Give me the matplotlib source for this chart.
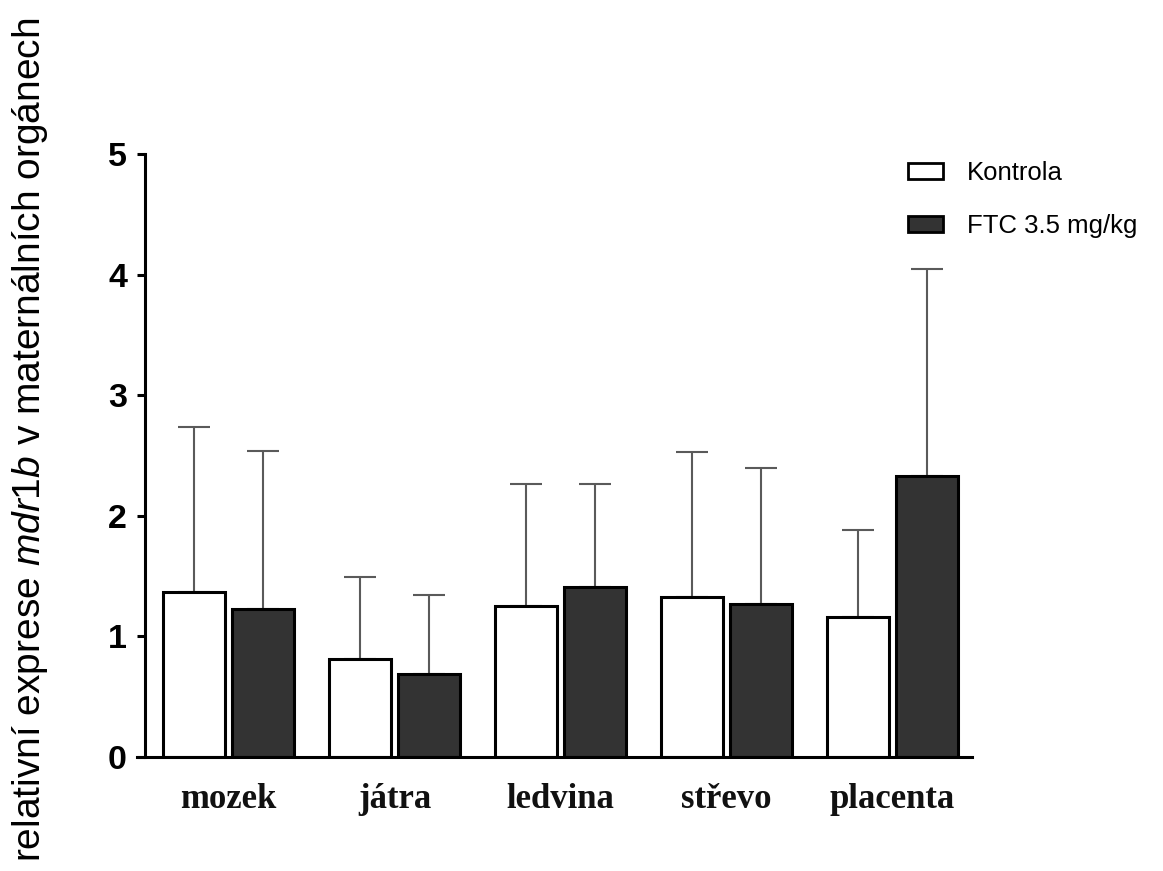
import matplotlib
matplotlib.use("Agg")
import matplotlib.pyplot as plt
from matplotlib.patches import Patch
import numpy as np

organs = ["mozek", "játra", "ledvina", "střevo", "placenta"]
series_names = ["Kontrola", "FTC 3.5 mg/kg"]
kontrola_mean = [1.37, 0.81, 1.25, 1.33, 1.16]
kontrola_sd = [1.37, 0.68, 1.01, 1.20, 0.72]
ftc_mean = [1.23, 0.69, 1.41, 1.27, 2.33]
ftc_sd = [1.31, 0.65, 0.85, 1.13, 1.72]
y_ticks = [0, 1, 2, 3, 4, 5]

plt.rcParams["mathtext.fontset"] = "custom"
plt.rcParams["mathtext.rm"] = "Liberation Sans"
plt.rcParams["mathtext.it"] = "Liberation Sans:italic"

W, H = 1163, 871
fig = plt.figure(figsize=(W / 100, H / 100), dpi=100)
ax_left, ax_right, ax_bottom, ax_top = 137, 972, 757, 154
ax = fig.add_axes([ax_left / W, 1 - ax_bottom / H,
                   (ax_right - ax_left) / W, (ax_bottom - ax_top) / H])

x = np.arange(len(organs))
off = 0.207
width = 0.37
dark = "#333333"
err_color = "#5a5a5a"

for xs, mean, sd, face in [(x - off, kontrola_mean, kontrola_sd, "white"),
                            (x + off, ftc_mean, ftc_sd, dark)]:
    ax.errorbar(xs, mean, yerr=[np.zeros(len(sd)), sd], fmt="none",
                ecolor=err_color, elinewidth=1.5, capsize=11.5, capthick=1.5,
                zorder=1)
    ax.bar(xs, mean, width=width, color=face, edgecolor="black",
           linewidth=2.2, zorder=2)

ax.set_xlim(-0.551, 4.479)
ax.set_ylim(0, 5)
ax.spines["left"].set_position(("data", -0.503))
ax.spines["top"].set_visible(False)
ax.spines["right"].set_visible(False)
for s in ("left", "bottom"):
    ax.spines[s].set_linewidth(2.2)

ax.set_yticks(y_ticks)
ax.set_yticklabels([str(t) for t in y_ticks], fontfamily="Liberation Sans",
                   fontweight="bold", fontsize=24.5)
ax.tick_params(axis="y", length=6, width=2.2, pad=7)
ax.set_xticks(x)
ax.set_xticklabels(organs, fontfamily="Liberation Serif", fontweight="bold",
                   fontsize=25, color="#111111")
ax.tick_params(axis="x", length=0, pad=19)

handles = [Patch(facecolor="white", edgecolor="black", linewidth=2.0),
           Patch(facecolor=dark, edgecolor="black", linewidth=2.0)]
leg_fs = 18.5
leg_px = leg_fs * 100 / 72
ax.legend(handles, series_names, loc="upper left",
          bbox_to_anchor=(908 / W, 1 - 161 / H),
          bbox_transform=fig.transFigure, frameon=False,
          prop={"family": "Liberation Sans", "size": leg_fs},
          handlelength=35 / leg_px, handleheight=14 / leg_px,
          handletextpad=24 / leg_px, labelspacing=1.13,
          borderaxespad=0, borderpad=0)

fig.text(30 / W, 1 - 440 / H,
         r"relativní exprese $\mathit{mdr1b}$ v maternálních orgánech",
         rotation=90, ha="center", va="center", fontsize=28,
         fontfamily="Liberation Sans")

fig.savefig("out.png", dpi=100, facecolor="white")
